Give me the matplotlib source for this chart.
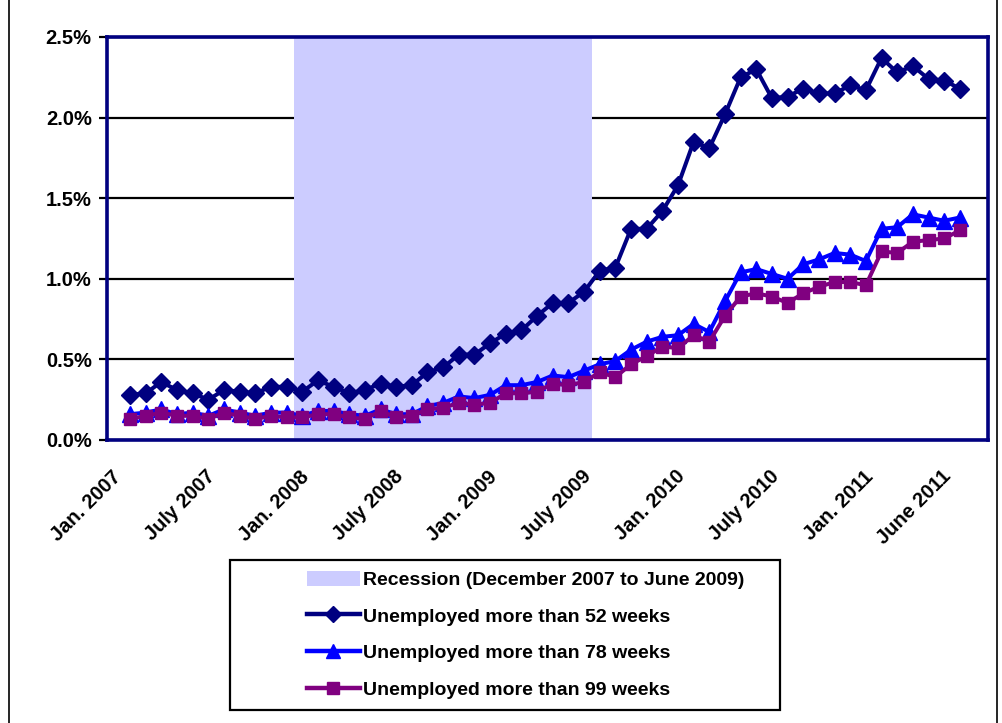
import matplotlib
matplotlib.use("Agg")
import matplotlib.pyplot as plt
from matplotlib.patches import Patch, Rectangle
from matplotlib.lines import Line2D
from matplotlib.ticker import FuncFormatter, FixedLocator
from matplotlib.transforms import ScaledTranslation

plt.rcParams['font.family'] = ['Liberation Sans', 'DejaVu Sans']
plt.rcParams['font.weight'] = 'bold'

# Monthly data, Jan. 2007 .. June 2011 (54 months), percent
w52 = [0.28, 0.29, 0.36, 0.31, 0.29, 0.25, 0.31, 0.30, 0.29, 0.33, 0.33,
       0.30, 0.37, 0.33, 0.29, 0.31, 0.35, 0.33, 0.34, 0.42, 0.45,
       0.53, 0.53, 0.60, 0.66, 0.68, 0.77, 0.85, 0.85, 0.92,
       1.05, 1.07, 1.31, 1.31, 1.42, 1.58, 1.85, 1.81, 2.02, 2.25, 2.30, 2.12,
       2.13, 2.18, 2.15, 2.15, 2.20, 2.17, 2.37, 2.28, 2.32, 2.24, 2.23, 2.18]
w78 = [0.16, 0.17, 0.19, 0.16, 0.17, 0.15, 0.19, 0.17, 0.15, 0.17, 0.17,
       0.15, 0.18, 0.18, 0.16, 0.15, 0.19, 0.16, 0.16, 0.21, 0.23,
       0.27, 0.26, 0.28, 0.34, 0.34, 0.36, 0.40, 0.39, 0.43,
       0.47, 0.49, 0.56, 0.61, 0.64, 0.65, 0.72, 0.67, 0.86, 1.04, 1.06, 1.03,
       1.00, 1.09, 1.12, 1.16, 1.15, 1.11, 1.31, 1.32, 1.40, 1.38, 1.36, 1.38]
w99 = [0.13, 0.15, 0.17, 0.15, 0.15, 0.13, 0.17, 0.15, 0.13, 0.15, 0.14,
       0.14, 0.16, 0.16, 0.14, 0.13, 0.18, 0.14, 0.15, 0.19, 0.20,
       0.23, 0.22, 0.23, 0.29, 0.29, 0.30, 0.35, 0.34, 0.36,
       0.42, 0.39, 0.47, 0.52, 0.58, 0.57, 0.65, 0.61, 0.77, 0.89, 0.91, 0.89,
       0.85, 0.91, 0.95, 0.98, 0.98, 0.96, 1.17, 1.16, 1.23, 1.24, 1.25, 1.30]

tick_idx = [0, 6, 12, 18, 24, 30, 36, 42, 48, 53]
tick_labels = ["Jan. 2007", "July 2007", "Jan. 2008", "July 2008", "Jan. 2009",
               "July 2009", "Jan. 2010", "July 2010", "Jan. 2011", "June 2011"]
recession = (10.5, 29.5)   # Dec 2007 .. June 2009 (category bounds)

series_labels = ["Unemployed more than 52 weeks",
                 "Unemployed more than 78 weeks",
                 "Unemployed more than 99 weeks"]
recession_label = "Recession (December 2007 to June 2009)"

NAVY = '#000080'
BLUE = '#0000FF'
PURPLE = '#800080'
SHADE = '#CCCCFF'

fig = plt.figure(figsize=(10.03, 7.23), dpi=100)
ax = fig.add_axes([107 / 1003, 1 - 440 / 723, (988 - 107) / 1003, (440 - 37) / 723])

x = list(range(len(w52)))
ax.axvspan(recession[0], recession[1], color=SHADE, zorder=1, lw=0)
ax.plot(x, w52, color=NAVY, lw=2.9, marker='D', ms=9, zorder=3)
ax.plot(x, w78, color=BLUE, lw=2.9, marker='^', ms=11, zorder=3)
ax.plot(x, w99, color=PURPLE, lw=2.9, marker='s', ms=9, zorder=4)

ax.set_xlim(-1.47, 54.8)
ax.set_ylim(0, 2.5)
ax.yaxis.set_major_locator(FixedLocator([0, 0.5, 1.0, 1.5, 2.0, 2.5]))
ax.yaxis.set_major_formatter(FuncFormatter(lambda v, p: f"{v:.1f}%"))
ax.set_axisbelow(True)
ax.grid(axis='y', color='black', lw=1.6)
ax.set_xticks(tick_idx)
ax.set_xticklabels(tick_labels, rotation=45, ha='right', va='top',
                   fontsize=14.5, fontweight='bold')
ax.tick_params(axis='x', length=0, pad=10)
ax.tick_params(axis='y', length=6, width=1.6, color='black', labelsize=14.5, pad=5)
for lab in ax.get_yticklabels():
    lab.set_fontweight('bold')
off = ScaledTranslation(-5 / 100, -13 / 100, fig.dpi_scale_trans)
for lab in ax.get_xticklabels():
    lab.set_transform(lab.get_transform() + off)
for s in ax.spines.values():
    s.set_color(NAVY)
    s.set_linewidth(2.6)

handles = [Patch(facecolor=SHADE, edgecolor='none'),
           Line2D([], [], color=NAVY, lw=3.2, marker='D', ms=8),
           Line2D([], [], color=BLUE, lw=3.2, marker='^', ms=10),
           Line2D([], [], color=PURPLE, lw=3.2, marker='s', ms=8)]
fig.legend(handles, [recession_label] + series_labels,
           loc='upper left', bbox_to_anchor=(297 / 1003, 1 - 561 / 723),
           bbox_transform=fig.transFigure, frameon=False, borderpad=0,
           handlelength=2.75, handletextpad=0.15, handleheight=0.8,
           labelspacing=0.95, prop={'size': 14, 'weight': 'bold'})
fig.patches.append(Rectangle((230 / 1003, 1 - 710 / 723), 550 / 1003, 150 / 723,
                             transform=fig.transFigure, fill=False,
                             edgecolor='black', lw=1.6))
fig.add_artist(Line2D([9 / 1003, 9 / 1003], [0, 1], color='black', lw=1.2,
                      transform=fig.transFigure))
fig.add_artist(Line2D([997 / 1003, 997 / 1003], [0, 1], color='black', lw=1.2,
                      transform=fig.transFigure))

fig.savefig("out.png", dpi=100)
